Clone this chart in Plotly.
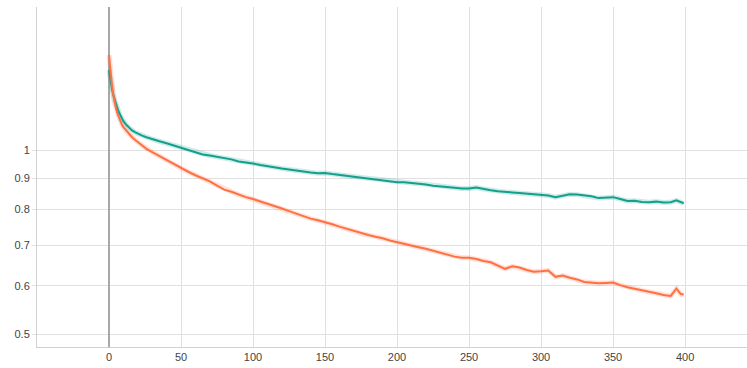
import plotly.graph_objects as go

steps = [0, 1, 2, 3, 4, 5, 6, 7, 8, 9, 10, 12, 14, 16, 18, 20, 23, 26, 30, 35, 40, 45,
         50, 55, 60, 65, 70, 75, 80, 85, 90, 95, 100, 105, 110, 115, 120, 125, 130, 135,
         140, 145, 150, 155, 160, 165, 170, 175, 180, 185, 190, 195, 200, 205, 210, 215,
         220, 225, 230, 235, 240, 245, 250, 255, 260, 265, 270, 275, 280, 285, 290, 295,
         300, 305, 310, 315, 320, 325, 330, 335, 340, 345, 350, 355, 360, 365, 370, 375,
         380, 385, 390, 394, 397, 399]

teal = [1.352, 1.30, 1.26, 1.23, 1.205, 1.185, 1.168, 1.152, 1.138, 1.126, 1.115, 1.100,
        1.087, 1.077, 1.070, 1.064, 1.056, 1.050, 1.042, 1.034, 1.026, 1.018,
        1.008, 1.000, 0.992, 0.984, 0.980, 0.975, 0.970, 0.966, 0.958, 0.955, 0.951,
        0.946, 0.941, 0.937, 0.933, 0.930, 0.926, 0.922, 0.919, 0.917, 0.918, 0.914,
        0.911, 0.908, 0.906, 0.902, 0.900, 0.897, 0.893, 0.890, 0.886, 0.886, 0.884,
        0.882, 0.879, 0.875, 0.872, 0.869, 0.868, 0.866, 0.866, 0.869, 0.864, 0.860,
        0.857, 0.854, 0.853, 0.851, 0.849, 0.847, 0.846, 0.843, 0.838, 0.843, 0.847,
        0.846, 0.843, 0.841, 0.835, 0.836, 0.838, 0.832, 0.826, 0.827, 0.823, 0.822,
        0.824, 0.821, 0.822, 0.828, 0.822, 0.819]

orange = [1.43, 1.34, 1.28, 1.23, 1.19, 1.165, 1.145, 1.128, 1.113, 1.10, 1.09, 1.075,
          1.062, 1.050, 1.040, 1.031, 1.018, 1.005, 0.993, 0.978, 0.962, 0.948,
          0.934, 0.922, 0.910, 0.900, 0.889, 0.875, 0.862, 0.855, 0.846, 0.838, 0.832,
          0.825, 0.818, 0.810, 0.803, 0.795, 0.787, 0.780, 0.773, 0.768, 0.763, 0.757,
          0.750, 0.744, 0.737, 0.731, 0.727, 0.722, 0.718, 0.712, 0.707, 0.703, 0.698,
          0.694, 0.690, 0.685, 0.679, 0.676, 0.670, 0.667, 0.667, 0.664, 0.659, 0.656,
          0.647, 0.640, 0.646, 0.643, 0.637, 0.633, 0.634, 0.636, 0.621, 0.624, 0.619,
          0.615, 0.609, 0.608, 0.606, 0.607, 0.608, 0.602, 0.597, 0.594, 0.590, 0.587,
          0.584, 0.580, 0.578, 0.594, 0.582, 0.581]

y_ticks = [0.5, 0.6, 0.7, 0.8, 0.9, 1]
y_tick_labels = ["0.5", "0.6", "0.7", "0.8", "0.9", "1"]
x_ticks = [0, 50, 100, 150, 200, 250, 300, 350, 400]

TEAL = "#12a08d"
ORANGE = "#ff7043"

fig = go.Figure()
for vals, col in [(teal, TEAL), (orange, ORANGE)]:
    fig.add_trace(go.Scatter(x=steps, y=vals, mode="lines",
                             line=dict(color=col, width=5), opacity=0.2,
                             hoverinfo="skip", showlegend=False))
for vals, col in [(teal, TEAL), (orange, ORANGE)]:
    fig.add_trace(go.Scatter(x=steps, y=vals, mode="lines",
                             line=dict(color=col, width=2), showlegend=False))

font = dict(family="Liberation Sans, Arial, sans-serif", size=11, color="#444")

fig.update_layout(
    width=747, height=368,
    margin=dict(l=37, r=0, t=7, b=21),
    paper_bgcolor="white", plot_bgcolor="white",
    font=font,
    xaxis=dict(range=[-50, 443], tickvals=x_ticks, showgrid=True,
               gridcolor="#e0e0e0", gridwidth=1,
               zeroline=True, zerolinecolor="#a8a8a8", zerolinewidth=2,
               showline=True, linecolor="#d0d0d0", linewidth=1,
               ticks="", automargin=False, tickfont=font),
    yaxis=dict(type="log", range=[-0.3215, 0.2338], tickvals=y_ticks,
               ticktext=y_tick_labels, showgrid=True, gridcolor="#e0e0e0",
               gridwidth=1, zeroline=False, showline=True, linecolor="#d0d0d0",
               linewidth=1, ticks="outside", ticklen=4, tickcolor="#e0e0e0",
               automargin=False, tickfont=font),
)

fig.write_html("out.html", config={"displayModeBar": False},
               post_script="document.body.style.margin='0';document.body.style.overflow='hidden';")
